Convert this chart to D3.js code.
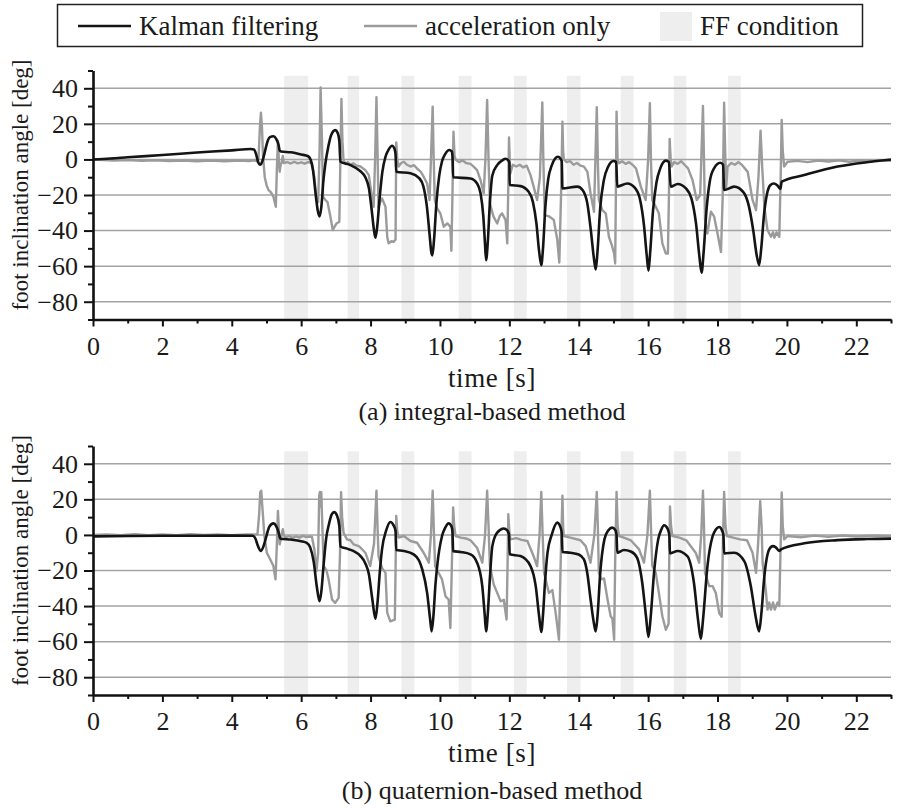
<!DOCTYPE html>
<html>
<head>
<meta charset="utf-8">
<script src="https://cdn.jsdelivr.net/npm/d3@7"></script>
<style>
  body { margin: 0; background: #fff; }
  svg text { font-family: 'Liberation Serif', 'DejaVu Serif', 'Times New Roman', Times, serif; fill: #1a1a1a; }
</style>
</head>
<body>
<div id="chart"></div>
<script>
// ---- data (time [s], angle [deg])
const xTicks = [0, 2, 4, 6, 8, 10, 12, 14, 16, 18, 20, 22]
const yTicks = [-80, -60, -40, -20, 0, 20, 40]
const ffStart = [5.51, 7.34, 8.89, 10.54, 12.13, 13.66, 15.21, 16.74, 18.30]
const ffEnd   = [6.20, 7.67, 9.26, 10.91, 12.50, 14.05, 15.58, 17.10, 18.67]
const legendLabels = ["Kalman filtering", "acceleration only", "FF condition"]
const captions = ["(a) integral-based method", "(b) quaternion-based method"]

const kalmanA = [[0,0],[0.5,0.5],[1,1.2],[2,2.5],[3,3.9],[4,5.1],[4.55,5.9],[4.64,5.6],[4.7,3],[4.76,-1.5],[4.82,-3],[4.88,-1],[4.95,4],[5.02,9.5],[5.1,12.5],[5.2,13],[5.28,11.5],[5.35,8],[5.38,5],[5.42,4.5],[5.7,4],[6.0,2.8],[6.2,1.8],[6.27,0],[6.34,-6],[6.42,-20],[6.48,-29],[6.53,-32],[6.58,-27],[6.64,-12],[6.7,-2],[6.78,7],[6.86,13.5],[6.98,16.5],[7.05,15],[7.1,10.5],[7.13,-1.3],[7.42,-3.2],[7.7,-6.5],[7.85,-10],[7.95,-16],[8.03,-28],[8.1,-40],[8.14,-44],[8.19,-38],[8.26,-22],[8.34,-7],[8.43,1.5],[8.52,5.5],[8.62,7.7],[8.69,6],[8.72,3],[8.74,-6.9],[9.15,-7.8],[9.4,-10.5],[9.52,-15],[9.62,-26],[9.7,-42],[9.75,-52],[9.78,-54],[9.83,-45],[9.9,-24],[9.98,-9],[10.06,-1],[10.15,3],[10.27,5.3],[10.34,4.5],[10.36,2],[10.38,-10],[10.88,-10.7],[11.07,-13.5],[11.17,-19],[11.25,-32],[11.3,-48],[11.33,-56.6],[11.38,-46],[11.44,-24],[11.51,-9],[11.65,-3.2],[11.8,-0.5],[11.89,0.4],[11.97,-0.5],[12,-2],[12.01,-14.4],[12.32,-15],[12.55,-18],[12.68,-24],[12.78,-36],[12.86,-52],[12.92,-59.4],[12.97,-50],[13.04,-26],[13.12,-11],[13.22,-3.5],[13.32,0.5],[13.4,1.5],[13.47,0.5],[13.51,-1],[13.53,-16.3],[13.96,-15.3],[14.12,-17.5],[14.25,-25],[14.35,-40],[14.44,-56],[14.49,-61.9],[14.54,-52],[14.62,-27],[14.72,-12],[14.85,-4],[15,-0.9],[15.08,-1.5],[15.11,-15.3],[15.4,-13.5],[15.62,-16],[15.76,-22],[15.88,-37],[15.96,-54],[16.01,-62.6],[16.06,-52],[16.14,-29],[16.24,-13],[16.35,-5],[16.51,-0.7],[16.6,-1.5],[16.65,-15.3],[16.85,-13.8],[17.09,-16.3],[17.25,-22],[17.38,-36],[17.48,-55],[17.54,-63.7],[17.6,-52],[17.68,-29],[17.78,-12],[17.9,-5],[18.08,-1.9],[18.16,-3],[18.19,-17.2],[18.48,-15.3],[18.75,-18.5],[18.9,-26],[19.03,-40],[19.13,-54],[19.2,-59.4],[19.26,-50],[19.34,-31],[19.43,-19],[19.52,-14.5],[19.62,-13.5],[19.72,-14.5],[19.81,-16.5],[19.85,-12.5],[20.5,-8.8],[21.46,-4],[22.42,-1.3],[23,0]]

const accelA = [[0,0],[0.3,-0.3],[0.6,-0.6],[1,-0.4],[1.4,-0.8],[1.8,-0.5],[2.2,-0.9],[2.6,-0.6],[3,-1],[3.4,-0.7],[3.8,-1],[4.2,-0.6],[4.5,-0.9],[4.65,-0.5],[4.72,-1],[4.77,0],[4.81,18],[4.84,26.3],[4.87,18],[4.9,2],[4.95,-10],[5.01,-15],[5.06,-17.2],[5.13,-18.5],[5.2,-21],[5.25,-25],[5.27,-26.6],[5.3,-5],[5.33,10.5],[5.36,-2],[5.38,-6.9],[5.41,-3],[5.44,-1.5],[5.47,2],[5.5,-2],[5.6,-1.5],[5.7,-2.3],[5.8,-1.3],[5.9,-2.2],[6,-1.6],[6.1,-2.4],[6.2,-1.5],[6.31,-2],[6.38,-10],[6.44,-22.8],[6.49,-24],[6.53,5],[6.56,40.5],[6.6,10],[6.63,-21],[6.7,-22.8],[6.76,-24],[6.84,-32],[6.91,-39.7],[6.96,-38],[7.02,-36],[7.1,-35],[7.13,0],[7.16,34],[7.19,10],[7.22,-0.3],[7.28,-2.5],[7.34,-1.5],[7.42,-3],[7.5,-2.2],[7.6,-3.5],[7.71,-4],[7.85,-6],[7.95,-8.8],[8.04,-21],[8.09,-26.6],[8.13,0],[8.17,35],[8.2,5],[8.23,-27],[8.28,-24],[8.33,-21.9],[8.43,-26.6],[8.48,-43.5],[8.52,-47.2],[8.6,-46],[8.67,-46.3],[8.72,-45],[8.74,9.6],[8.77,0],[8.81,-4],[8.88,-2],[8.96,-1.3],[9.05,-3],[9.15,-4],[9.25,-3.2],[9.34,-5.1],[9.45,-7],[9.53,-9.7],[9.63,-13.5],[9.7,-22.8],[9.74,0],[9.79,29.7],[9.82,0],[9.85,-22.8],[9.92,-27.5],[10.01,-30.3],[10.11,-37.8],[10.21,-36],[10.3,-37.8],[10.33,-51.4],[10.36,-20],[10.39,15.6],[10.42,2],[10.45,0],[10.55,-1.5],[10.65,-0.5],[10.75,-2],[10.88,-2.5],[10.97,-4],[11.07,-6],[11.17,-11.6],[11.26,-19],[11.31,0],[11.36,33.4],[11.4,0],[11.44,-24.7],[11.54,-32],[11.65,-36],[11.72,-32],[11.79,-30.3],[11.89,-34],[11.94,-47.2],[11.97,-15],[11.99,12.4],[12.01,0],[12.03,-7.8],[12.1,-3],[12.2,-4],[12.3,-3],[12.4,-4.5],[12.5,-3.5],[12.61,-8.8],[12.7,-15.3],[12.8,-22.8],[12.88,-10],[12.95,32.1],[12.98,0],[13.02,-31.3],[13.14,-32],[13.28,-34],[13.38,-45],[13.44,-58],[13.49,-20],[13.53,21.2],[13.55,5],[13.57,0],[13.65,-1.5],[13.75,-1],[13.85,-3],[13.95,-2],[14.05,-3.5],[14.15,-4],[14.25,-7],[14.34,-19],[14.44,-29.4],[14.48,0],[14.52,29.3],[14.55,0],[14.58,-22.8],[14.68,-28.5],[14.78,-30.3],[14.87,-43.5],[14.95,-48],[15.02,-52.9],[15.05,-58.5],[15.07,-20],[15.09,26.9],[15.12,0],[15.16,-2.2],[15.25,-1],[15.35,-2.5],[15.45,-1.5],[15.55,-3],[15.65,-5],[15.79,-15.3],[15.93,-22.8],[16,0],[16.05,31.6],[16.08,0],[16.12,-22.8],[16.22,-26.6],[16.31,-30.3],[16.41,-47.2],[16.51,-52.9],[16.57,-52.9],[16.6,-20],[16.62,11.5],[16.65,0],[16.68,-4],[16.75,-1.5],[16.85,-2.5],[16.95,-1],[17.05,-3],[17.15,-5],[17.28,-11.6],[17.4,-22.8],[17.5,-20],[17.54,5],[17.58,30],[17.61,0],[17.64,-34],[17.71,-41.6],[17.76,-35],[17.81,-29.4],[17.9,-32],[18,-41.6],[18.1,-52],[18.15,-20],[18.19,31.9],[18.22,5],[18.25,-16],[18.29,-4],[18.4,-2],[18.5,-3],[18.6,-1.5],[18.7,-3],[18.87,-7],[19.01,-22.8],[19.11,-28.5],[19.18,-10],[19.24,16.2],[19.29,-5],[19.35,-26.6],[19.44,-39.7],[19.54,-43.5],[19.6,-41],[19.64,-44],[19.7,-41],[19.78,-43.5],[19.82,-10],[19.85,22.2],[19.88,5],[19.92,-4],[20.02,-1.3],[20.3,-0.8],[20.6,-1.5],[20.9,-0.6],[21.2,-1.2],[21.5,-0.5],[21.8,-1.3],[22.1,-0.6],[22.4,-1],[22.7,-0.4],[23,-0.8]]

const kalmanB = [[0,-0.8],[1,-0.6],[2,-0.5],[3,-0.5],[4,-0.4],[4.6,-0.5],[4.68,-2],[4.75,-6],[4.84,-9],[4.92,-6],[5,-0.5],[5.08,4.5],[5.2,6.5],[5.28,5],[5.34,2],[5.38,-1],[5.4,-2.1],[5.7,-2.6],[6,-3.5],[6.16,-4.4],[6.26,-7],[6.36,-15],[6.45,-29],[6.53,-37.3],[6.58,-32],[6.65,-16],[6.72,-2],[6.8,6],[6.88,11.5],[6.95,12.8],[7.03,11],[7.1,5],[7.13,-6.5],[7.32,-7.7],[7.5,-9],[7.71,-11.9],[7.85,-16],[7.95,-22],[8.05,-36],[8.14,-47.2],[8.2,-38],[8.27,-20],[8.33,-8.1],[8.45,2.5],[8.57,7.3],[8.66,5.5],[8.72,2.2],[8.74,-8.5],[8.96,-9],[9.24,-10.9],[9.4,-14.5],[9.49,-19.4],[9.63,-32.6],[9.72,-48],[9.76,-54.2],[9.81,-46],[9.87,-28],[9.92,-17.5],[10.06,-0.6],[10.15,4],[10.25,6.5],[10.33,5],[10.36,2],[10.38,-9.1],[10.6,-9.6],[10.88,-10.9],[11.07,-15.6],[11.22,-28.8],[11.29,-45],[11.33,-54.2],[11.38,-44],[11.44,-24],[11.51,-6.3],[11.65,1.3],[11.84,3.6],[11.94,2.5],[11.99,0],[12.01,-10.9],[12.32,-11.9],[12.61,-17.5],[12.76,-28.8],[12.86,-46],[12.92,-54.6],[12.97,-45],[13.03,-26],[13.1,-10],[13.22,0],[13.38,6.9],[13.48,4],[13.51,1],[13.53,-9.6],[13.76,-10],[14,-11],[14.15,-13.8],[14.25,-22],[14.34,-36],[14.44,-50],[14.49,-54.2],[14.54,-46],[14.62,-21.3],[14.74,-2.5],[14.85,2.5],[14.97,4.1],[15.06,2.5],[15.09,0],[15.11,-10],[15.3,-8.5],[15.5,-9.3],[15.68,-12.8],[15.83,-26.9],[15.94,-46],[16.01,-57.4],[16.07,-47],[16.17,-21.3],[16.29,-2.5],[16.38,3],[16.46,5.4],[16.56,3.5],[16.61,0],[16.63,-10.4],[16.85,-9],[17.13,-11.9],[17.32,-26.9],[17.44,-48],[17.52,-58.5],[17.58,-48],[17.71,-17.5],[17.86,-0.6],[17.95,3],[18.05,4.5],[18.13,2.5],[18.17,0],[18.19,-10.4],[18.48,-10],[18.77,-14.7],[18.96,-28.8],[19.1,-46],[19.2,-54.2],[19.26,-45],[19.35,-23.2],[19.49,-8.1],[19.59,-6.3],[19.68,-7],[19.78,-9],[19.83,-8.1],[20.5,-4.7],[21.46,-2.9],[22.3,-2.3],[23,-2.1]]

const accelB = [[0,0],[0.4,0.3],[0.8,-0.2],[1.2,0.4],[1.6,-0.1],[2,0.3],[2.4,-0.2],[2.8,0.4],[3.2,0],[3.6,0.3],[4,-0.2],[4.4,0.3],[4.74,0.3],[4.79,12],[4.82,24],[4.85,24.8],[4.88,16],[4.94,-0.6],[5.01,-10],[5.11,-13.8],[5.2,-17.5],[5.26,-25],[5.3,-5],[5.33,13.5],[5.36,2],[5.38,-5.3],[5.42,-2],[5.47,3.2],[5.5,0],[5.54,-1.5],[5.65,-0.6],[5.75,-1.6],[5.85,-0.8],[5.95,-1.5],[6.05,-0.5],[6.15,-1.2],[6.26,-0.9],[6.31,-1],[6.38,-8.1],[6.44,-20.4],[6.49,-10],[6.52,22],[6.54,24.2],[6.56,16],[6.58,24],[6.61,5],[6.65,-17.5],[6.73,-20],[6.79,-25],[6.89,-36.3],[6.98,-38.2],[7.08,-35.4],[7.12,-10],[7.15,24],[7.18,10],[7.22,1.3],[7.32,-2.5],[7.42,-3],[7.51,-5.3],[7.66,-6.3],[7.71,-7.2],[7.85,-10],[7.99,-17.5],[8.1,-5],[8.17,24.8],[8.2,5],[8.23,-11.9],[8.33,-18.5],[8.43,-21.3],[8.48,-43.8],[8.57,-48.6],[8.7,-47.6],[8.72,-20],[8.74,10.7],[8.77,2],[8.81,-1.5],[8.96,-0.6],[9.15,-3.4],[9.34,-4.4],[9.53,-10],[9.68,-15.6],[9.74,0],[9.79,24.8],[9.82,5],[9.86,-17.5],[9.96,-21.3],[10.06,-25],[10.16,-34.5],[10.25,-36.3],[10.3,-52.3],[10.34,-20],[10.38,15.4],[10.41,5],[10.45,-0.6],[10.6,-1.5],[10.75,-2],[10.88,-3],[11.07,-7.2],[11.22,-15.6],[11.3,0],[11.36,24.8],[11.4,5],[11.44,-17.5],[11.55,-27.9],[11.65,-32.6],[11.75,-37.3],[11.84,-36.5],[11.92,-47.6],[11.95,-15],[11.97,11.6],[12,2],[12.03,-2.5],[12.2,-1.8],[12.35,-2.8],[12.52,-3.4],[12.7,-12],[12.8,-17.5],[12.87,0],[12.92,24.2],[12.96,0],[13,-21.3],[13.14,-32.6],[13.24,-31],[13.34,-44.7],[13.43,-58.9],[13.48,-15],[13.53,22],[13.55,5],[13.57,-0.6],[13.76,-1.5],[14.05,-3],[14.2,-6.3],[14.34,-15.6],[14.45,0],[14.52,24.2],[14.55,5],[14.58,-21.3],[14.65,-25],[14.73,-24.5],[14.83,-36.3],[14.92,-45.7],[14.97,-47],[15.02,-58.9],[15.05,-15],[15.09,24.2],[15.12,5],[15.16,-0.6],[15.3,-1.5],[15.5,-3],[15.74,-8.1],[15.88,-15.6],[15.98,0],[16.05,24.8],[16.08,5],[16.12,-17.5],[16.22,-21.3],[16.31,-32.6],[16.41,-45.7],[16.51,-53.3],[16.59,-50],[16.61,-10],[16.63,16],[16.66,5],[16.7,-0.6],[16.9,-1.5],[17.1,-3],[17.37,-10],[17.47,-15.6],[17.53,0],[17.58,24.8],[17.61,5],[17.64,-21.3],[17.76,-28.8],[17.86,-28.8],[17.95,-32.6],[18.05,-44.1],[18.12,-46],[18.15,-10],[18.19,24.2],[18.23,5],[18.27,-0.6],[18.45,-1.5],[18.65,-2.5],[18.85,-3],[19.01,-10],[19.11,-21.3],[19.17,-5],[19.23,19],[19.27,5],[19.3,-15.6],[19.39,-30.7],[19.44,-42],[19.49,-38],[19.54,-42],[19.6,-38],[19.65,-42],[19.73,-38],[19.78,-40],[19.82,-5],[19.85,23.9],[19.88,5],[19.92,-2.5],[20.02,-0.6],[20.4,-1.3],[20.8,-0.4],[21.2,-1.1],[21.6,-0.3],[22,-0.9],[22.5,-0.4],[23,-0.7]]

// ---- layout
const width = 899, height = 808
const left = 93, right = 891
const fontFamily = "'Liberation Serif', 'DejaVu Serif', 'Times New Roman', Times, serif"
const kalmanColor = "#141414", accelColor = "#9b9b9b", ffColor = "#eeeeee", gridColor = "#a3a3a3"

const svg = d3.select("#chart").append("svg")
    .attr("width", width)
    .attr("height", height)
    .attr("font-family", fontFamily)

const x = d3.scaleLinear().domain([0, 23]).range([left, right])

const panels = [
    {kalman: kalmanA, accel: accelA, top: 70.5, bottom: 319.5, caption: captions[0], capOffset: 100},
    {kalman: kalmanB, accel: accelB, top: 446, bottom: 695, caption: captions[1], capOffset: 104}
]

panels.forEach(p => {
    const y = d3.scaleLinear().domain([-90, 50]).range([p.bottom, p.top])
    const g = svg.append("g")

    // FF shading
    g.selectAll("rect.ff")
        .data(d3.zip(ffStart, ffEnd))
        .join("rect")
        .attr("class", "ff")
        .attr("x", d => x(d[0]))
        .attr("width", d => x(d[1]) - x(d[0]))
        .attr("y", y(47))
        .attr("height", y(-90) - y(47))
        .attr("fill", ffColor)

    // grid
    g.selectAll("line.grid")
        .data(yTicks)
        .join("line")
        .attr("class", "grid")
        .attr("x1", left).attr("x2", right)
        .attr("y1", d => y(d)).attr("y2", d => y(d))
        .attr("stroke", gridColor)
        .attr("stroke-width", 1.5)

    const line = d3.line()
        .x(d => x(d[0]))
        .y(d => y(d[1]))

    g.append("path")
        .datum(p.accel)
        .attr("fill", "none")
        .attr("stroke", accelColor)
        .attr("stroke-width", 2.4)
        .attr("stroke-linejoin", "round")
        .attr("d", line.curve(d3.curveLinear))

    g.append("path")
        .datum(p.kalman)
        .attr("fill", "none")
        .attr("stroke", kalmanColor)
        .attr("stroke-width", 2.6)
        .attr("stroke-linejoin", "round")
        .attr("d", line.curve(d3.curveMonotoneX))

    // y axis, major + minor ticks
    const yAxis = g.append("g")
        .attr("transform", `translate(${left},0)`)
        .call(d3.axisLeft(y).tickValues(yTicks).tickSize(9).tickSizeOuter(0).tickPadding(6))
    g.append("g")
        .attr("transform", `translate(${left},0)`)
        .call(d3.axisLeft(y).tickValues(d3.range(-90, 51, 10).filter(v => v % 20 !== 0)).tickSize(5).tickSizeOuter(0).tickFormat(""))
        .select(".domain").remove()

    // x axis, major + minor ticks
    const xAxis = g.append("g")
        .attr("transform", `translate(0,${p.bottom})`)
        .call(d3.axisBottom(x).tickValues(xTicks).tickSize(7).tickSizeOuter(0).tickPadding(10))
    g.append("g")
        .attr("transform", `translate(0,${p.bottom})`)
        .call(d3.axisBottom(x).tickValues(d3.range(1, 24, 2)).tickSize(4).tickSizeOuter(0).tickFormat(""))
        .select(".domain").remove()

    g.selectAll("g").attr("font-family", fontFamily)
    svg.selectAll(".tick line").attr("stroke", "#111").attr("stroke-width", 2)
    ;[yAxis, xAxis].forEach(a => {
        a.select(".domain").attr("stroke", "#111").attr("stroke-width", 2.6)
        a.selectAll("text").attr("font-size", 26).attr("fill", "#1a1a1a")
    })

    // axis titles
    g.append("text")
        .attr("transform", `translate(28,${(p.top + p.bottom) / 2 - 10}) rotate(-90)`)
        .attr("text-anchor", "middle")
        .attr("font-size", 23)
        .text("foot inclination angle [deg]")

    g.append("text")
        .attr("x", (left + right) / 2)
        .attr("y", p.bottom + 67)
        .attr("text-anchor", "middle")
        .attr("font-size", 27)
        .attr("letter-spacing", 0.6)
        .text("time [s]")

    g.append("text")
        .attr("x", (left + right) / 2)
        .attr("y", p.bottom + p.capOffset)
        .attr("text-anchor", "middle")
        .attr("font-size", 26)
        .text(p.caption)
})

// ---- legend
const legend = svg.append("g")
legend.append("rect")
    .attr("x", 57.5).attr("y", 4.5)
    .attr("width", 805).attr("height", 42)
    .attr("fill", "#fff")
    .attr("stroke", "#222")
    .attr("stroke-width", 1.5)

const legendItems = [
    {label: legendLabels[0], x0: 78, kind: "line", color: kalmanColor},
    {label: legendLabels[1], x0: 364, kind: "line", color: accelColor},
    {label: legendLabels[2], x0: 660, kind: "rect", color: ffColor}
]
legendItems.forEach(d => {
    if (d.kind === "line") {
        legend.append("line")
            .attr("x1", d.x0).attr("x2", d.x0 + 53)
            .attr("y1", 26).attr("y2", 26)
            .attr("stroke", d.color).attr("stroke-width", 2.6)
        legend.append("text").attr("x", d.x0 + 61).attr("y", 35)
            .attr("font-size", 27).text(d.label)
    } else {
        legend.append("rect")
            .attr("x", d.x0).attr("y", 12).attr("width", 32).attr("height", 29)
            .attr("fill", d.color)
        legend.append("text").attr("x", d.x0 + 40).attr("y", 35)
            .attr("font-size", 27).text(d.label)
    }
})
</script>
</body>
</html>
